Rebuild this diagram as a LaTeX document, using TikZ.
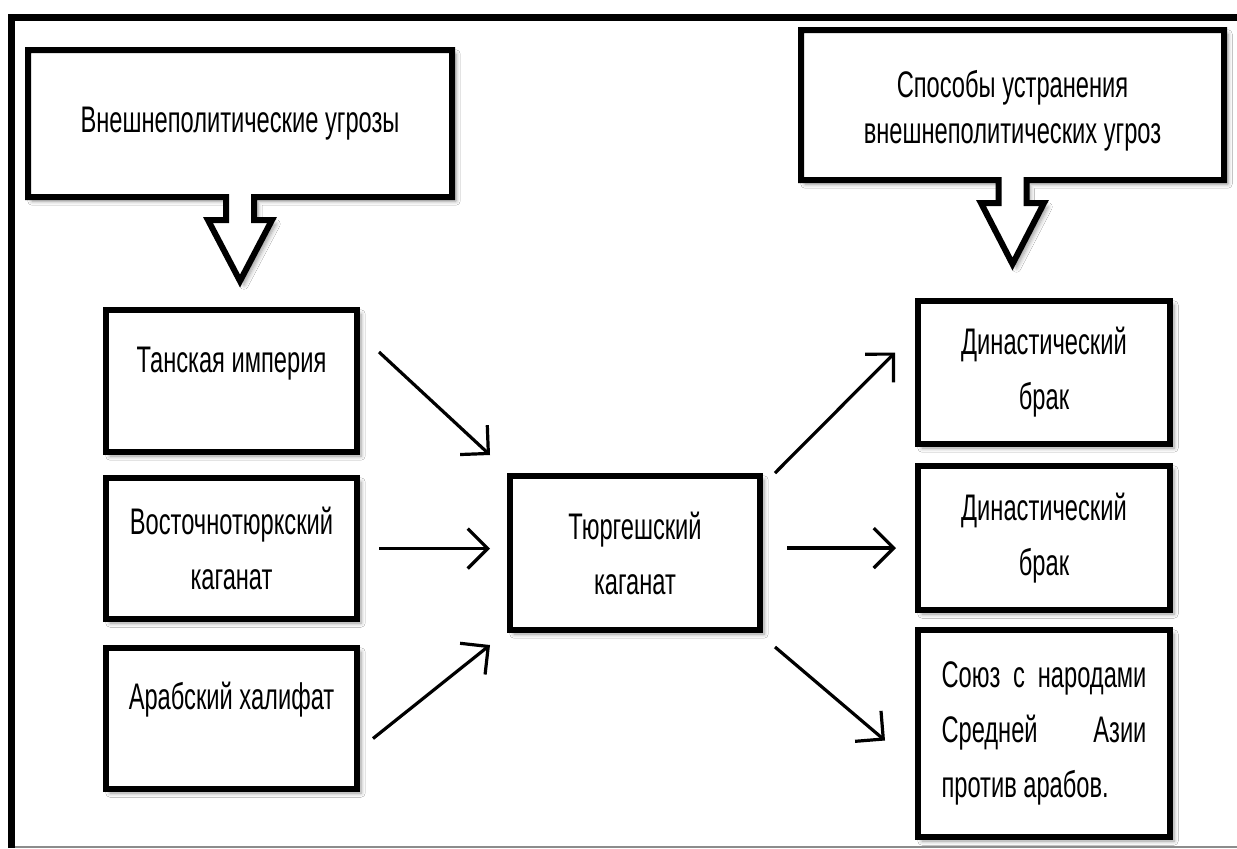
\documentclass[tikz,border=0pt]{standalone}
\usepackage{fontspec}
\setmainfont[FakeStretch=0.64]{Liberation Sans}
\usetikzlibrary{calc,arrows.meta,shadows.blur}
\tikzset{blok/.style={
    draw=black, line width=3pt, fill=white, outer sep=0pt, align=center,
    blur shadow={shadow xshift=2pt, shadow yshift=-2pt, shadow blur steps=6},
    font=\fontsize{18.5}{27.5}\selectfont},
  toptext/.style={text height=13pt, text depth=22pt},
  head/.style={outer sep=0pt, align=center, font=\fontsize{18.5}{23}\selectfont},
  calloutline/.style={draw=black, line width=3pt, fill=white, line join=miter,
    blur shadow={shadow xshift=2pt, shadow yshift=-2pt, shadow blur steps=6}},
  link/.style={line width=1.6pt, -{Straight Barb[length=10pt,width=20pt,line width=1.6pt]}}}

\begin{document}
\begin{tikzpicture}[x=0.5pt,y=-0.5pt]
\useasboundingbox (0,0) rectangle (1237,848);
\fill[white] (0,0) rectangle (1237,848);
\draw[line width=3.5pt] (11,848) -- (11,17) -- (1237,17);
\draw[black!45, line width=1pt] (15,846.5) -- (1237,846.5);

\coordinate (T) at (240,123.5);
\coordinate (M) at (1012.5,105);
\coordinate (A) at (231.5,381);
\coordinate (B) at (231.5,548.5);
\coordinate (C) at (231.5,718.5);
\coordinate (K) at (635,553);
\coordinate (D) at (1044,372.5);
\coordinate (E) at (1044,538);
\coordinate (F) at (1044,733.5);

\node[head, minimum width=212pt, minimum height=73.5pt] (threats) at (T) {};
\path[calloutline] (threats.north west) -- (threats.north east) -- (threats.south east)
  -- ($(threats.south)+(14,0)$) -- ++(0,23) -- ++(18,0) -- ($(threats.south)+(0,84)$)
  -- ($(threats.south)+(-32,23)$) -- ++(18,0) -- ++(0,-23) -- (threats.south west) -- cycle;
\node[head] at (threats) {Внешнеполитические угрозы};

\node[head, minimum width=211.5pt, minimum height=75pt] (methods) at (M) {};
\path[calloutline] (methods.north west) -- (methods.north east) -- (methods.south east)
  -- ($(methods.south)+(14,0)$) -- ++(0,23) -- ++(17.5,0) -- ($(methods.south)+(0,84)$)
  -- ($(methods.south)+(-31.5,23)$) -- ++(17.5,0) -- ++(0,-23) -- (methods.south west) -- cycle;
\node[head, yshift=-3pt] at (methods) {Способы устранения\\внешнеполитических угроз};

\node[blok, toptext, minimum width=125.5pt, minimum height=71pt] (tang) at (A) {Танская империя};
\node[blok, minimum width=125.5pt, minimum height=70.5pt] (eastturk) at (B) {Восточнотюркский\\каганат};
\node[blok, toptext, minimum width=125.5pt, minimum height=70.5pt] (arab) at (C) {Арабский халифат};

\node[blok, minimum width=125pt, minimum height=77pt] (turgesh) at (K) {Тюргешский\\каганат};

\node[blok, minimum width=126pt, minimum height=71.5pt] (dynone) at (D) {Династический\\брак};
\node[blok, minimum width=126pt, minimum height=72pt] (dyntwo) at (E) {Династический\\брак};
\node[blok, minimum width=126pt, minimum height=103.5pt, text width=102.5pt, align=justify] (union) at (F)
  {Союз с народами\linebreak Средней Азии\linebreak против арабов.};

\draw[link] ($(tang.east)+(22,-29)$) -- ($(turgesh.north west)+(-20,-21)$);
\draw[link] ($(eastturk.east)+(22,0)$) -- ($(eastturk.east -| turgesh.west)+(-20,0)$);
\draw[link] ($(arab.east)+(16,20)$) -- ($(turgesh.south west)+(-20,15)$);
\draw[link] ($(turgesh.north east)+(15,-3)$) -- ($(dynone.west)+(-23,-20)$);
\draw[link] ($(turgesh.east)+(27,-5)$) -- ($(turgesh.east -| dyntwo.west)+(-22,-5)$);
\draw[link] ($(turgesh.south east)+(15,17)$) -- ($(union.west)+(-33,7)$);
\end{tikzpicture}
\end{document}
